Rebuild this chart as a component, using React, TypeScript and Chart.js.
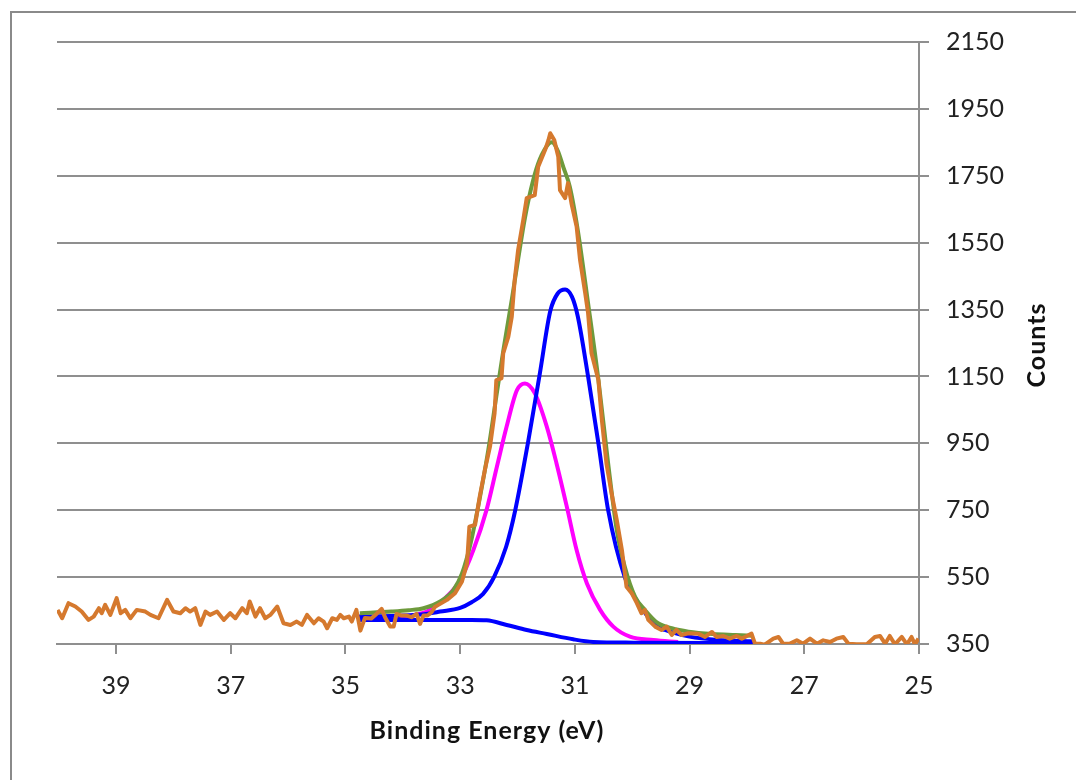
import React, { useEffect, useRef } from 'react';
import { Chart, registerables } from 'chart.js';

Chart.register(...registerables);

// Axis ticks
const xTickValues = [39, 37, 35, 33, 31, 29, 27, 25];
const yMin = 350;
const yMax = 2150;
const yStep = 200;
const xMin = 25;
const xMax = 40.03;

// Raw spectrum (orange)
const rawEnergy = [
  40.02, 39.94, 39.83, 39.71, 39.6, 39.48, 39.39, 39.3, 39.25, 39.19, 39.1, 38.99, 38.92, 38.84, 38.75,
  38.64, 38.49, 38.4, 38.26, 38.11, 38.0, 37.88, 37.79, 37.71, 37.62, 37.53, 37.44, 37.36, 37.24, 37.12,
  37.01, 36.92, 36.8, 36.72, 36.67, 36.57, 36.49, 36.4, 36.31, 36.19, 36.08, 35.96, 35.85, 35.76, 35.67,
  35.55, 35.47, 35.38, 35.32, 35.23, 35.15, 35.09, 35.03, 34.94, 34.89, 34.81, 34.74, 34.66, 34.55, 34.46,
  34.37, 34.31, 34.22, 34.16, 34.11, 34.02, 33.93, 33.85, 33.76, 33.7, 33.64, 33.57, 33.5, 33.44, 33.35,
  33.23, 33.09, 32.97, 32.88, 32.84, 32.74, 32.66, 32.57, 32.48, 32.4, 32.37, 32.28, 32.25, 32.16, 32.1,
  32.05, 31.99, 31.9, 31.84, 31.7, 31.64, 31.52, 31.46, 31.43, 31.36, 31.29, 31.26, 31.17, 31.12, 31.06,
  30.97, 30.91, 30.82, 30.77, 30.71, 30.59, 30.53, 30.45, 30.36, 30.27, 30.18, 30.1, 30.01, 29.92, 29.84,
  29.78, 29.72, 29.6, 29.49, 29.4, 29.31, 29.23, 29.14, 29.02, 28.85, 28.73, 28.61, 28.53, 28.41, 28.3,
  28.18, 28.09, 28.0, 27.92, 27.86, 27.77, 27.69, 27.54, 27.45, 27.37, 27.25, 27.13, 27.02, 26.9, 26.78,
  26.67, 26.55, 26.44, 26.32, 26.23, 26.09, 25.91, 25.77, 25.68, 25.59, 25.51, 25.42, 25.3, 25.21, 25.13,
  25.07, 25.01,
];
const rawCounts = [
  452, 427, 472, 462, 447, 422, 432, 457, 442, 467, 437, 487, 442, 452, 427,
  452, 447, 437, 427, 482, 447, 442, 457, 447, 457, 407, 447, 437, 447, 422,
  442, 427, 457, 442, 477, 432, 457, 427, 437, 462, 412, 407, 417, 407, 437,
  412, 427, 417, 397, 427, 422, 437, 427, 432, 417, 452, 390, 428, 426, 440,
  455, 430, 402, 402, 440, 435, 435, 430, 440, 410, 435, 435, 445, 461, 470,
  482, 502, 536, 591, 701, 706, 790, 870, 940, 1040, 1139, 1144, 1219, 1269, 1329,
  1438, 1528, 1618, 1683, 1692, 1777, 1827, 1857, 1877, 1857, 1807, 1707, 1683, 1728, 1668,
  1598, 1498, 1399, 1339, 1219, 1139, 1020, 890, 800, 721, 631, 521, 502, 472, 442,
  452, 422, 402, 392, 402, 377, 392, 377, 382, 381, 371, 386, 371, 374, 366,
  374, 366, 374, 381, 351, 351, 348, 366, 371, 351, 351, 361, 351, 366, 351,
  361, 356, 366, 371, 351, 349, 349, 371, 374, 351, 374, 349, 371, 349, 371,
  349, 366,
];

// Envelope (green)
const envEnergy = [
  34.75, 34.2, 33.9, 33.64, 33.35, 33.12, 32.97, 32.82, 32.66, 32.51, 32.37, 32.25, 32.1, 31.99, 31.87,
  31.73, 31.61, 31.46, 31.4, 31.3, 31.2, 31.09, 30.95, 30.77, 30.59, 30.42, 30.27, 30.13, 29.95, 29.78,
  29.55, 29.31, 29.02, 28.6, 28.2, 27.9,
];
const envCounts = [
  442, 447, 451, 457, 477, 511, 560, 650, 785, 930, 1090, 1225, 1380, 1500, 1625,
  1735, 1800, 1845, 1850, 1825, 1775, 1718, 1588, 1369, 1140, 890, 691, 581, 491, 452,
  412, 397, 387, 380, 377, 375,
];

// Component 1 (blue peak)
const peakEnergy = [
  34.8, 34.4, 34.0, 33.6, 33.35, 33.0, 32.8, 32.6, 32.41, 32.2, 32.04, 31.82, 31.61, 31.43, 31.3,
  31.17, 31.05, 30.95, 30.77, 30.59, 30.42, 30.13, 29.89, 29.6, 29.43, 29.0, 28.5, 27.9,
];
const peakCounts = [
  432, 433, 435, 440, 447, 458, 475, 500, 550, 640, 750, 950, 1160, 1345, 1398,
  1410, 1388, 1330, 1150, 950, 750, 550, 472, 407, 392, 372, 362, 358,
];

// Component 2 (magenta peak)
const magEnergy = [
  34.8, 34.2, 33.8, 33.53, 33.24, 33.0, 32.77, 32.54, 32.36, 32.19, 32.01, 31.87, 31.7, 31.49, 31.32,
  31.14, 30.97, 30.79, 30.56, 30.33, 30.04, 29.63, 29.2,
];
const magCounts = [
  428, 432, 437, 452, 491, 541, 631, 751, 880, 1000, 1109, 1129, 1100, 1000, 890,
  760, 631, 531, 452, 402, 372, 362, 356,
];

// Background (blue)
const bgEnergy = [34.75, 33.5, 32.8, 32.54, 32.19, 31.84, 31.49, 31.03, 30.68, 29.98, 28.5, 27.85];
const bgCounts = [422, 422, 422, 421, 407, 392, 380, 364, 356, 354, 353, 353];

const toPoints = (xs: number[], ys: number[]) => xs.map((x, i) => ({ x, y: ys[i] }));

const GRID = '#8f8f8f';
const FONT = 'Lato, "Open Sans", sans-serif';

const decorPlugin = {
  id: 'decor',
  beforeDraw(chart: any) {
    const ctx = chart.ctx;
    ctx.save();
    ctx.fillStyle = '#ffffff';
    ctx.fillRect(0, 0, chart.width, chart.height);
    ctx.strokeStyle = '#8a8a8a';
    ctx.lineWidth = 2;
    ctx.strokeRect(11, 12, 1200, 900);
    ctx.restore();
  },
  afterDraw(chart: any) {
    const ctx = chart.ctx;
    ctx.save();
    ctx.fillStyle = '#111';
    ctx.font = `bold 25px ${FONT}`;
    (ctx as any).letterSpacing = '1px';
    ctx.textAlign = 'center';
    ctx.textBaseline = 'middle';
    ctx.fillText('Binding Energy (eV)', 487, 731);
    ctx.translate(1037, 345);
    ctx.rotate(-Math.PI / 2);
    ctx.fillText('Counts', 0, 0);
    ctx.restore();
  },
};

export default function App() {
  const ref = useRef<HTMLCanvasElement>(null);

  useEffect(() => {
    if (!ref.current) return;
    const line = (label: string, xs: number[], ys: number[], color: string, smooth: boolean) => ({
      label,
      data: toPoints(xs, ys),
      borderColor: color,
      backgroundColor: color,
      borderWidth: 4,
      pointRadius: 0,
      fill: false,
      tension: 0,
      borderJoinStyle: 'round' as const,
      cubicInterpolationMode: smooth ? ('monotone' as const) : ('default' as const),
    });
    const chart = new Chart(ref.current, {
      type: 'line',
      data: {
        datasets: [
          line('Raw', rawEnergy, rawCounts, '#D5792E', false),
          line('Envelope', envEnergy, envCounts, '#6E9A3C', true),
          line('Peak 1', peakEnergy, peakCounts, '#0000FF', true),
          line('Background', bgEnergy, bgCounts, '#0000FF', true),
          line('Peak 2', magEnergy, magCounts, '#FF00FF', true),
        ],
      },
      options: {
        responsive: false,
        animation: false,
        layout: { padding: { left: 57, top: 42, right: 0, bottom: 0 } },
        plugins: {
          legend: { display: false },
          tooltip: { enabled: false },
        },
        scales: {
          x: {
            type: 'linear',
            position: 'bottom',
            reverse: true,
            min: xMin,
            max: xMax,
            afterBuildTicks: (s: any) => {
              s.ticks = xTickValues.map((v) => ({ value: v }));
            },
            afterFit: (s: any) => {
              s.height = 136;
            },
            grid: {
              drawOnChartArea: false,
              drawTicks: true,
              tickLength: 10,
              color: GRID,
              lineWidth: 2,
            },
            border: { display: true, color: GRID, width: 2 },
            ticks: {
              autoSkip: false,
              maxRotation: 0,
              padding: 17,
              color: '#222',
              font: { family: FONT, size: 25 },
              callback: (v: any) => String(v),
            },
          },
          y: {
            type: 'linear',
            position: 'right',
            min: yMin,
            max: yMax,
            afterFit: (s: any) => {
              s.width = 157;
            },
            grid: {
              drawOnChartArea: true,
              drawTicks: true,
              tickLength: 10,
              color: GRID,
              lineWidth: 2,
            },
            border: { display: true, color: GRID, width: 2 },
            ticks: {
              stepSize: yStep,
              padding: 17,
              color: '#222',
              font: { family: FONT, size: 25 },
              callback: (v: any) => String(v),
            },
          },
        },
      },
      plugins: [decorPlugin],
    });
    return () => chart.destroy();
  }, []);

  return (
    <div style={{ position: 'absolute', left: 0, top: 0, width: 1076, height: 780 }}>
      <canvas ref={ref} width={1076} height={780} style={{ display: 'block' }} />
    </div>
  );
}
